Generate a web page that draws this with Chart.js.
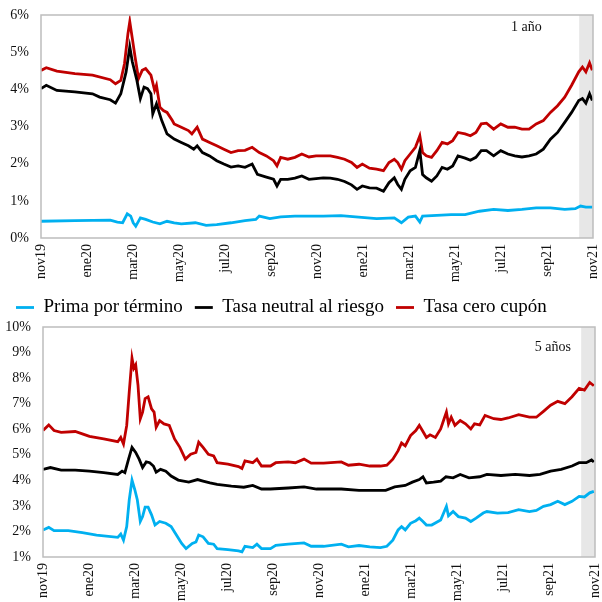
<!DOCTYPE html>
<html>
<head>
<meta charset="utf-8">
<script src="https://cdn.jsdelivr.net/npm/chart.js@4.4.1/dist/chart.umd.min.js"></script>
<style>
  body { margin: 0; background: #fff; }
  #wrap { position: relative; width: 602px; height: 602px; }
  canvas { position: absolute; left: 0; }
  #top { top: 0; }
  #bottom { top: 286px; }
</style>
</head>
<body>
<div id="wrap">
  <canvas id="top" width="602" height="286"></canvas>
  <canvas id="bottom" width="602" height="316"></canvas>
</div>
<script>
// x axis in months since nov19
const xLabels = ['nov19', 'ene20', 'mar20', 'may20', 'jul20', 'sep20', 'nov20', 'ene21', 'mar21', 'may21', 'jul21', 'sep21', 'nov21'];
const seriesNames = ['Prima por término', 'Tasa neutral al riesgo', 'Tasa cero cupón'];
const seriesColors = ['#00b0f0', '#000000', '#c00000'];
const bandStart = 23.4;

// 1 año
const topCeroX = [0, 0.23, 0.69, 1.47, 2.24, 3.01, 3.24, 3.47, 3.63, 3.78, 3.86, 3.97, 4.09, 4.24, 4.40, 4.55, 4.78, 4.94, 5.02, 5.17, 5.32, 5.48, 5.71, 5.79, 6.10, 6.41, 6.56, 6.79, 7.02, 7.33, 7.64, 7.95, 8.26, 8.57, 8.87, 9.18, 9.49, 9.80, 10.11, 10.26, 10.42, 10.73, 11.04, 11.34, 11.65, 11.96, 12.27, 12.58, 12.89, 13.20, 13.50, 13.74, 13.97, 14.28, 14.59, 14.89, 15.13, 15.36, 15.51, 15.67, 15.82, 16.05, 16.28, 16.47, 16.59, 16.75, 16.98, 17.21, 17.44, 17.67, 17.90, 18.13, 18.44, 18.67, 18.91, 19.14, 19.37, 19.68, 19.99, 20.30, 20.60, 20.91, 21.22, 21.53, 21.84, 22.15, 22.46, 22.77, 23.07, 23.38, 23.54, 23.69, 23.85, 23.97];
const topCero = [4.51, 4.58, 4.49, 4.42, 4.38, 4.26, 4.15, 4.24, 4.69, 5.5, 5.82, 5.37, 4.87, 4.29, 4.51, 4.56, 4.38, 3.97, 4.11, 3.52, 3.43, 3.38, 3.16, 3.07, 2.98, 2.89, 2.80, 2.98, 2.66, 2.57, 2.48, 2.39, 2.30, 2.35, 2.36, 2.44, 2.30, 2.21, 2.08, 1.94, 2.17, 2.12, 2.17, 2.26, 2.18, 2.21, 2.21, 2.21, 2.17, 2.12, 2.03, 1.90, 1.99, 1.88, 1.85, 1.81, 2.03, 2.12, 2.03, 1.85, 2.08, 2.26, 2.44, 2.75, 2.30, 2.21, 2.17, 2.35, 2.57, 2.53, 2.62, 2.84, 2.80, 2.75, 2.84, 3.07, 3.09, 2.93, 3.07, 2.98, 2.98, 2.93, 2.93, 3.07, 3.16, 3.38, 3.56, 3.79, 4.11, 4.47, 4.60, 4.47, 4.71, 4.51];

const topNeutralX = [0, 0.23, 0.69, 1.47, 2.24, 2.55, 3.01, 3.24, 3.47, 3.70, 3.86, 3.97, 4.17, 4.32, 4.48, 4.63, 4.78, 4.86, 5.02, 5.25, 5.48, 5.79, 6.10, 6.41, 6.64, 6.79, 7.02, 7.33, 7.64, 7.95, 8.26, 8.57, 8.87, 9.18, 9.41, 9.80, 10.11, 10.26, 10.42, 10.73, 11.04, 11.34, 11.65, 11.96, 12.27, 12.58, 12.89, 13.20, 13.50, 13.74, 13.97, 14.28, 14.59, 14.89, 15.13, 15.36, 15.51, 15.67, 15.82, 16.05, 16.28, 16.47, 16.59, 16.75, 16.98, 17.21, 17.44, 17.67, 17.90, 18.13, 18.44, 18.67, 18.91, 19.14, 19.37, 19.68, 19.99, 20.30, 20.60, 20.91, 21.22, 21.53, 21.84, 22.15, 22.46, 22.77, 23.07, 23.38, 23.54, 23.69, 23.85, 23.97];
const topNeutral = [4.02, 4.11, 3.97, 3.93, 3.88, 3.79, 3.72, 3.63, 3.88, 4.47, 5.14, 4.74, 4.24, 3.75, 4.06, 4.02, 3.88, 3.34, 3.61, 3.16, 2.80, 2.66, 2.57, 2.48, 2.39, 2.48, 2.30, 2.21, 2.08, 1.99, 1.91, 1.94, 1.90, 1.99, 1.71, 1.64, 1.58, 1.40, 1.58, 1.58, 1.61, 1.67, 1.58, 1.60, 1.62, 1.61, 1.58, 1.52, 1.43, 1.31, 1.40, 1.35, 1.34, 1.26, 1.49, 1.62, 1.44, 1.31, 1.58, 1.81, 1.90, 2.35, 1.71, 1.62, 1.53, 1.67, 1.90, 1.85, 1.94, 2.21, 2.15, 2.09, 2.17, 2.35, 2.35, 2.21, 2.35, 2.26, 2.21, 2.18, 2.21, 2.26, 2.39, 2.66, 2.84, 3.11, 3.38, 3.70, 3.75, 3.63, 3.88, 3.70];

const topPrimaX = [0, 1.47, 3.01, 3.32, 3.55, 3.75, 3.90, 4.01, 4.12, 4.32, 4.55, 4.86, 5.17, 5.48, 5.79, 6.10, 6.71, 7.18, 7.64, 8.26, 8.87, 9.34, 9.49, 9.95, 10.42, 11.04, 11.65, 12.27, 13.04, 13.81, 14.59, 15.36, 15.67, 15.97, 16.28, 16.47, 16.59, 17.21, 17.83, 18.44, 19.06, 19.68, 20.30, 20.91, 21.53, 22.15, 22.77, 23.23, 23.46, 23.69, 23.97];
const topPrima = [0.45, 0.47, 0.48, 0.43, 0.41, 0.65, 0.59, 0.41, 0.32, 0.54, 0.50, 0.43, 0.38, 0.45, 0.41, 0.38, 0.41, 0.34, 0.36, 0.41, 0.47, 0.50, 0.59, 0.52, 0.57, 0.59, 0.59, 0.59, 0.60, 0.56, 0.52, 0.54, 0.41, 0.56, 0.59, 0.43, 0.59, 0.61, 0.63, 0.63, 0.72, 0.77, 0.74, 0.77, 0.81, 0.81, 0.77, 0.79, 0.86, 0.83, 0.83];

// 5 años
const botCeroX = [0, 0.25, 0.48, 0.79, 1.40, 1.71, 2.02, 2.64, 3.25, 3.38, 3.50, 3.64, 3.75, 3.87, 3.95, 4.03, 4.13, 4.23, 4.33, 4.44, 4.57, 4.72, 4.83, 4.92, 5.07, 5.26, 5.49, 5.72, 5.95, 6.19, 6.42, 6.65, 6.77, 6.96, 7.19, 7.42, 7.57, 8.04, 8.50, 8.65, 8.78, 9.12, 9.30, 9.50, 9.89, 10.12, 10.66, 10.97, 11.35, 11.66, 12.20, 12.97, 13.28, 13.74, 14.21, 14.67, 14.95, 15.21, 15.44, 15.59, 15.75, 15.98, 16.21, 16.36, 16.52, 16.67, 16.83, 17.06, 17.29, 17.44, 17.54, 17.63, 17.75, 17.91, 18.14, 18.37, 18.60, 18.76, 18.99, 19.22, 19.60, 19.91, 20.22, 20.68, 21.15, 21.45, 21.76, 22.07, 22.38, 22.69, 23.00, 23.31, 23.54, 23.77, 23.95];
const botCero = [5.95, 6.17, 5.95, 5.88, 5.91, 5.82, 5.72, 5.62, 5.51, 5.68, 5.42, 6.15, 7.46, 8.78, 8.39, 8.52, 7.73, 6.41, 6.67, 7.20, 7.27, 6.80, 6.67, 6.08, 6.34, 6.21, 6.15, 5.62, 5.29, 4.83, 5.02, 5.09, 5.49, 5.29, 5.02, 4.96, 4.69, 4.63, 4.54, 4.46, 4.76, 4.69, 4.83, 4.56, 4.56, 4.69, 4.72, 4.69, 4.83, 4.67, 4.67, 4.72, 4.59, 4.63, 4.56, 4.56, 4.59, 4.83, 5.16, 5.46, 5.35, 5.75, 5.95, 6.15, 5.91, 5.68, 5.78, 5.68, 6.01, 6.41, 6.67, 6.21, 6.47, 6.15, 6.34, 6.21, 6.01, 6.21, 6.17, 6.54, 6.41, 6.38, 6.44, 6.57, 6.47, 6.47, 6.70, 6.94, 7.09, 7.00, 7.27, 7.60, 7.53, 7.83, 7.70];

const botNeutralX = [0, 0.32, 0.79, 1.40, 2.02, 2.64, 3.25, 3.44, 3.56, 3.72, 3.87, 4.03, 4.18, 4.33, 4.49, 4.64, 4.80, 4.92, 5.11, 5.34, 5.57, 5.88, 6.34, 6.72, 6.96, 7.26, 7.57, 8.19, 8.73, 9.12, 9.50, 9.89, 10.66, 11.35, 11.89, 12.51, 12.97, 13.74, 14.36, 14.90, 15.29, 15.75, 16.06, 16.36, 16.52, 16.67, 16.98, 17.29, 17.52, 17.83, 18.14, 18.52, 18.99, 19.30, 19.91, 20.53, 21.15, 21.61, 22.07, 22.53, 23.00, 23.31, 23.62, 23.85, 23.95];
const botNeutral = [4.43, 4.50, 4.40, 4.40, 4.36, 4.30, 4.23, 4.36, 4.30, 4.83, 5.29, 5.09, 4.83, 4.50, 4.72, 4.69, 4.56, 4.32, 4.43, 4.36, 4.17, 4.01, 3.93, 4.03, 3.97, 3.90, 3.84, 3.77, 3.73, 3.80, 3.66, 3.66, 3.70, 3.74, 3.66, 3.66, 3.66, 3.61, 3.61, 3.61, 3.74, 3.80, 3.93, 4.03, 4.14, 3.90, 3.93, 3.97, 4.14, 4.10, 4.23, 4.10, 4.14, 4.23, 4.19, 4.23, 4.19, 4.23, 4.36, 4.43, 4.56, 4.69, 4.69, 4.80, 4.72];

const botPrimaX = [0, 0.25, 0.48, 1.10, 1.71, 2.33, 3.25, 3.38, 3.50, 3.64, 3.75, 3.87, 3.99, 4.10, 4.23, 4.33, 4.44, 4.57, 4.72, 4.87, 5.07, 5.34, 5.57, 5.80, 6.03, 6.22, 6.49, 6.65, 6.77, 6.96, 7.19, 7.42, 7.57, 8.04, 8.50, 8.65, 8.78, 9.12, 9.30, 9.50, 9.89, 10.12, 10.66, 11.35, 11.66, 12.20, 12.97, 13.28, 13.74, 14.21, 14.67, 14.95, 15.21, 15.44, 15.59, 15.75, 15.98, 16.21, 16.36, 16.52, 16.67, 16.90, 17.29, 17.54, 17.63, 17.83, 18.06, 18.37, 18.60, 18.83, 19.14, 19.30, 19.76, 20.22, 20.68, 21.15, 21.45, 21.76, 22.07, 22.38, 22.69, 23.00, 23.31, 23.54, 23.77, 23.95];
const botPrima = [2.06, 2.16, 2.03, 2.03, 1.95, 1.86, 1.77, 1.90, 1.66, 2.19, 3.24, 4.01, 3.64, 3.24, 2.39, 2.58, 2.95, 2.95, 2.65, 2.25, 2.39, 2.32, 2.19, 1.86, 1.53, 1.33, 1.53, 1.59, 1.86, 1.79, 1.53, 1.50, 1.33, 1.29, 1.24, 1.20, 1.42, 1.37, 1.50, 1.33, 1.33, 1.46, 1.50, 1.55, 1.42, 1.42, 1.50, 1.40, 1.45, 1.40, 1.37, 1.42, 1.66, 2.06, 2.19, 2.06, 2.32, 2.42, 2.52, 2.39, 2.25, 2.25, 2.45, 2.98, 2.61, 2.78, 2.58, 2.52, 2.39, 2.52, 2.72, 2.78, 2.72, 2.74, 2.85, 2.78, 2.82, 2.98, 3.05, 3.18, 3.05, 3.18, 3.37, 3.35, 3.51, 3.57];

const serif = '"Liberation Serif", "Times New Roman", serif';

function pts(xs, ys) {
  return xs.map((x, i) => ({x: x, y: ys[i]}));
}

function makeDatasets(prima, neutral, cero) {
  return [prima, neutral, cero].map((d, i) => ({
    label: seriesNames[i],
    data: d,
    borderColor: seriesColors[i],
    backgroundColor: seriesColors[i],
    borderWidth: 2.8,
    pointRadius: 0,
    tension: 0,
    pointStyle: 'line'
  }));
}

// gray band at the end, frame and panel tag
const panelDecor = {
  id: 'panelDecor',
  beforeDatasetsDraw(chart, args, opts) {
    const {ctx, chartArea: a, scales} = chart;
    const xs = scales.x.getPixelForValue(bandStart);
    ctx.save();
    ctx.fillStyle = '#e7e7e7';
    ctx.fillRect(xs, a.top, a.right - xs, a.bottom - a.top);
    ctx.font = '14px ' + serif;
    ctx.fillStyle = '#111';
    ctx.textAlign = 'center';
    ctx.textBaseline = 'middle';
    ctx.fillText(opts.tag, scales.x.getPixelForValue(opts.tagX), scales.y.getPixelForValue(opts.tagY));
    ctx.restore();
  },
  afterDraw(chart) {
    const {ctx, chartArea: a} = chart;
    ctx.save();
    ctx.strokeStyle = '#bdbdbd';
    ctx.lineWidth = 1.5;
    ctx.strokeRect(a.left, a.top, a.right - a.left, a.bottom - a.top);
    ctx.restore();
  }
};

function makeOptions(cfg) {
  return {
    responsive: false,
    animation: false,
    layout: { padding: cfg.padding },
    plugins: {
      legend: cfg.legend,
      tooltip: { enabled: false },
      panelDecor: { tag: cfg.tag, tagX: cfg.tagX, tagY: cfg.tagY }
    },
    scales: {
      x: {
        type: 'linear',
        min: 0,
        max: 24,
        border: { display: false },
        grid: { display: false, drawTicks: false },
        afterFit: (s) => { s.height = cfg.xHeight; s.paddingLeft = 0; s.paddingRight = 0; },
        ticks: {
          stepSize: 2,
          autoSkip: false,
          minRotation: 90,
          maxRotation: 90,
          padding: 6,
          color: '#111',
          font: { family: serif, size: 14 },
          callback: (v) => xLabels[v / 2]
        }
      },
      y: {
        min: cfg.yMin,
        max: cfg.yMax,
        border: { display: false },
        grid: { display: false, drawTicks: false },
        afterFit: (s) => { s.width = cfg.yWidth; s.paddingTop = 0; s.paddingBottom = 0; },
        ticks: {
          stepSize: 1,
          padding: 12,
          color: '#111',
          font: { family: serif, size: 14 },
          callback: (v) => v + '%'
        }
      }
    }
  };
}

new Chart(document.getElementById('top'), {
  type: 'line',
  data: { datasets: makeDatasets(pts(topPrimaX, topPrima), pts(topNeutralX, topNeutral), pts(topCeroX, topCero)) },
  options: makeOptions({
    padding: { top: 15, right: 9, left: 0, bottom: 0 },
    legend: { display: false },
    tag: '1 año', tagX: 21.1, tagY: 5.68,
    xHeight: 48, yWidth: 41, yMin: 0, yMax: 6
  }),
  plugins: [panelDecor]
});

new Chart(document.getElementById('bottom'), {
  type: 'line',
  data: { datasets: makeDatasets(pts(botPrimaX, botPrima), pts(botNeutralX, botNeutral), pts(botCeroX, botCero)) },
  options: makeOptions({
    padding: { top: 0, right: 7, left: 4, bottom: 0 },
    legend: {
      display: true,
      position: 'top',
      align: 'start',
      labels: {
        usePointStyle: true,
        pointStyleWidth: 18,
        padding: 12,
        color: '#000',
        font: { family: serif, size: 19 }
      }
    },
    tag: '5 años', tagX: 22.17, tagY: 9.21,
    xHeight: 45, yWidth: 39, yMin: 1, yMax: 10
  }),
  plugins: [panelDecor]
});
</script>
</body>
</html>
